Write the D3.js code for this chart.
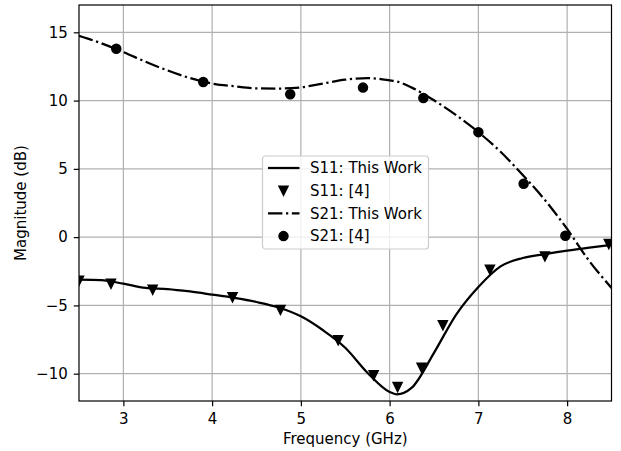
<!DOCTYPE html>
<html>
<head>
<meta charset="utf-8">
<script src="https://cdn.jsdelivr.net/npm/d3@7"></script>
<style>
  html, body { margin: 0; padding: 0; background: #fff; }
  text { font-family: "DejaVu Sans", sans-serif; }
</style>
</head>
<body>
<svg id="chart" width="621" height="451"></svg>
<script>
// S11 / S21 magnitude versus frequency
const freqLine = [2.5, 2.75, 3.0, 3.25, 3.5, 3.75, 4.0, 4.25, 4.5, 4.75, 5.0, 5.25, 5.5,
                  5.75, 6.0, 6.08, 6.25, 6.5, 6.75, 7.0, 7.25, 7.5, 7.75, 8.0, 8.25, 8.5];
const s11Line = [-3.12, -3.15, -3.41, -3.72, -3.8, -3.98, -4.21, -4.45, -4.75, -5.15, -5.8, -6.82, -8.1,
                 -9.93, -11.34, -11.51, -11.02, -8.47, -5.67, -3.65, -2.14, -1.53, -1.24, -0.98, -0.76, -0.56];
const s21Line = [14.75, 14.2, 13.55, 12.85, 12.2, 11.65, 11.25, 11.05, 10.9, 10.88, 10.97, 11.25, 11.53,
                 11.65, 11.48, 11.4, 10.95, 10.02, 8.93, 7.69, 6.25, 4.55, 2.72, 0.6, -1.75, -3.72];

const s11RefFreq = [2.5, 2.86, 3.33, 4.23, 4.77, 5.42, 5.82, 6.09, 6.36, 6.6, 7.13, 7.75, 8.47];
const s11RefVal  = [-3.2, -3.41, -3.85, -4.41, -5.33, -7.55, -10.12, -10.98, -9.56, -6.45, -2.39, -1.41, -0.51];

const s21RefFreq = [2.92, 3.9, 4.88, 5.7, 6.38, 7.0, 7.51, 7.98];
const s21RefVal  = [13.8, 11.36, 10.46, 10.95, 10.19, 7.69, 3.91, 0.1];

const xTicks = [3, 4, 5, 6, 7, 8];
const yTicks = [-10, -5, 0, 5, 10, 15];
const legendLabels = ["S11: This Work", "S11: [4]", "S21: This Work", "S21: [4]"];

const W = 621, H = 451;
const margin = { left: 79, right: 9.5, top: 5, bottom: 50 };
const iw = W - margin.left - margin.right;
const ih = H - margin.top - margin.bottom;
const fs = 15;
const lw = 2.25;
const dash = "14.4,3.6,2.25,3.6";

const svg = d3.select("#chart");
const g = svg.append("g").attr("transform", `translate(${margin.left},${margin.top})`);

const x = d3.scaleLinear().domain([2.5, 8.5]).range([0, iw]);
const y = d3.scaleLinear().domain([-12, 17]).range([ih, 0]);

g.append("defs").append("clipPath").attr("id", "plotclip")
  .append("rect").attr("width", iw).attr("height", ih);

// grid
const grid = g.append("g").attr("stroke", "#b0b0b0").attr("stroke-width", 1.2);
xTicks.forEach(t => grid.append("line")
  .attr("x1", x(t)).attr("x2", x(t)).attr("y1", 0).attr("y2", ih));
yTicks.forEach(t => grid.append("line")
  .attr("y1", y(t)).attr("y2", y(t)).attr("x1", 0).attr("x2", iw));

// axes
const fmt = d => String(d).replace("-", "\u2212");
const xAxis = g.append("g").attr("transform", `translate(0,${ih})`)
  .call(d3.axisBottom(x).tickValues(xTicks).tickFormat(fmt).tickSize(5.25).tickPadding(6.9));
const yAxis = g.append("g")
  .call(d3.axisLeft(y).tickValues(yTicks).tickFormat(fmt).tickSize(5.25).tickPadding(6));
[xAxis, yAxis].forEach(a => {
  a.select(".domain").remove();
  a.selectAll(".tick line").attr("stroke", "#000").attr("stroke-width", 1.2);
  a.selectAll(".tick text").attr("font-size", fs).attr("fill", "#000")
    .attr("font-family", "DejaVu Sans, sans-serif");
});

const plot = g.append("g").attr("clip-path", "url(#plotclip)");

const line = d3.line().curve(d3.curveMonotoneX);

plot.append("path")
  .attr("d", line(freqLine.map((f, i) => [x(f), y(s11Line[i])])))
  .attr("fill", "none").attr("stroke", "#000").attr("stroke-width", lw);

plot.append("path")
  .attr("d", line(freqLine.map((f, i) => [x(f), y(s21Line[i])])))
  .attr("fill", "none").attr("stroke", "#000").attr("stroke-width", lw)
  .attr("stroke-dasharray", dash);

const tri = d3.symbol().type({
  draw(ctx) {
    const h = 4.5;
    ctx.moveTo(0, h); ctx.lineTo(-h, -h); ctx.lineTo(h, -h); ctx.closePath();
  }
})();

plot.selectAll(".s11ref").data(s11RefFreq).join("path")
  .attr("class", "s11ref")
  .attr("transform", (d, i) => `translate(${x(d)},${y(s11RefVal[i])})`)
  .attr("d", tri).attr("fill", "#000").attr("stroke", "#000").attr("stroke-width", 1.5);

plot.selectAll(".s21ref").data(s21RefFreq).join("circle")
  .attr("class", "s21ref")
  .attr("cx", d => x(d)).attr("cy", (d, i) => y(s21RefVal[i]))
  .attr("r", 4.5).attr("fill", "#000").attr("stroke", "#000").attr("stroke-width", 1.5);

// frame
g.append("rect").attr("width", iw).attr("height", ih)
  .attr("fill", "none").attr("stroke", "#000").attr("stroke-width", 1.2);

// axis labels
g.append("text").attr("x", iw / 2).attr("y", ih + 42.5)
  .attr("text-anchor", "middle").attr("font-size", fs).text("Frequency (GHz)");
svg.append("text")
  .attr("transform", `translate(25.5,${margin.top + ih / 2}) rotate(-90)`)
  .attr("text-anchor", "middle").attr("font-size", fs).text("Magnitude (dB)");

// legend
const lg = svg.append("g").attr("transform", "translate(262.5,156)");
lg.append("rect").attr("width", 166).attr("height", 93).attr("rx", 3)
  .attr("fill", "#fff").attr("fill-opacity", 0.8)
  .attr("stroke", "#cccccc").attr("stroke-width", 1.2);
const rowY = [12, 34.7, 57.4, 80.1];
legendLabels.forEach((lab, i) => {
  const yy = rowY[i];
  if (i === 0 || i === 2) {
    lg.append("line").attr("x1", 5.5).attr("x2", 37).attr("y1", yy).attr("y2", yy)
      .attr("stroke", "#000").attr("stroke-width", lw)
      .attr("stroke-dasharray", i === 2 ? dash : null);
  } else if (i === 1) {
    lg.append("path").attr("transform", `translate(21,${yy})`).attr("d", tri)
      .attr("fill", "#000").attr("stroke", "#000").attr("stroke-width", 1.5);
  } else {
    lg.append("circle").attr("cx", 21).attr("cy", yy).attr("r", 4.5)
      .attr("fill", "#000").attr("stroke", "#000").attr("stroke-width", 1.5);
  }
  lg.append("text").attr("x", 47.5).attr("y", yy).attr("dy", "0.35em")
    .attr("font-size", fs).attr("fill", "#000").text(lab);
});
</script>
</body>
</html>
